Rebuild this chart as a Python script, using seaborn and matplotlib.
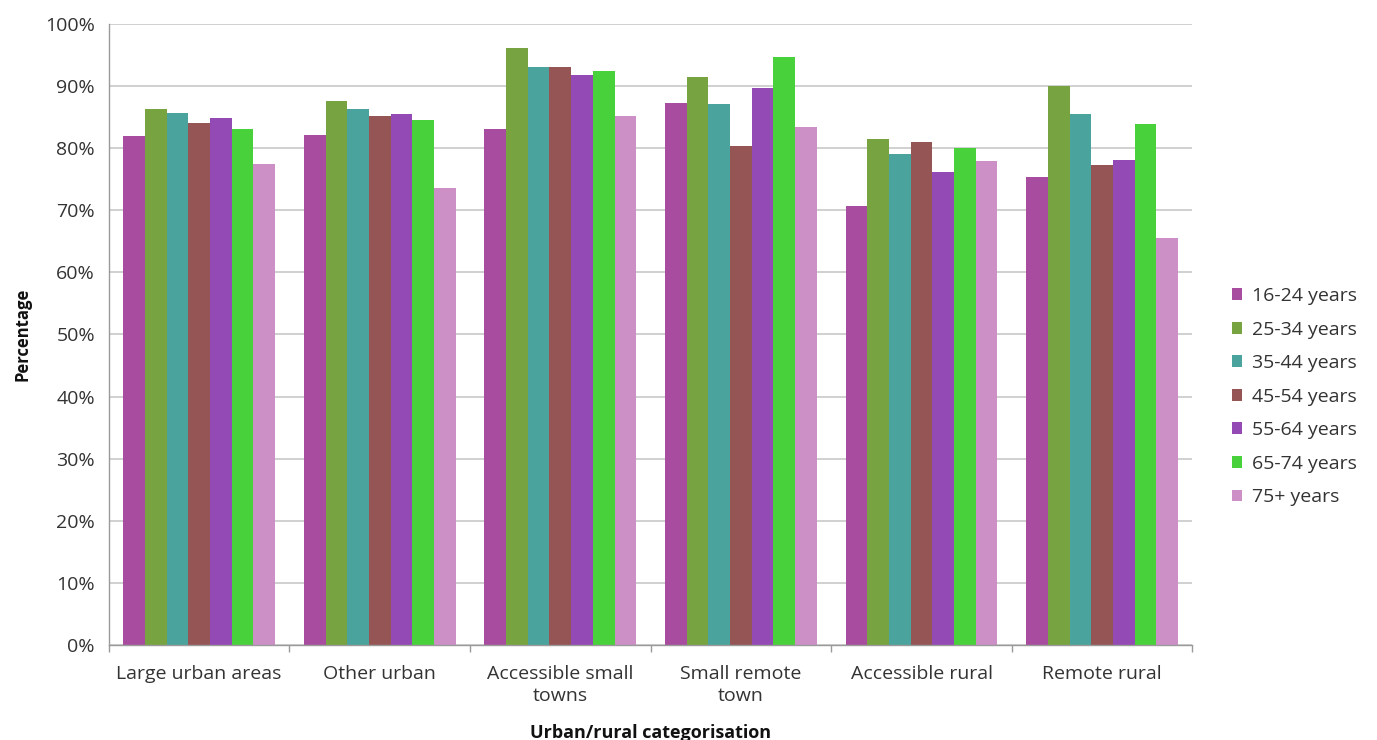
import numpy as np
import pandas as pd
import matplotlib
matplotlib.use('Agg')
import matplotlib.pyplot as plt
import seaborn as sns
from matplotlib.ticker import FuncFormatter, FixedLocator

categories = ['Large urban areas', 'Other urban', 'Accessible small\ntowns',
              'Small remote\ntown', 'Accessible rural', 'Remote rural']
age_groups = ['16-24 years', '25-34 years', '35-44 years', '45-54 years',
              '55-64 years', '65-74 years', '75+ years']

v_16_24 = [82.0, 82.1, 83.1, 87.3, 70.7, 75.3]
v_25_34 = [86.3, 87.6, 96.1, 91.5, 81.4, 90.0]
v_35_44 = [85.7, 86.2, 93.1, 87.0, 79.0, 85.4]
v_45_54 = [84.1, 85.1, 93.1, 80.4, 81.0, 77.2]
v_55_64 = [84.8, 85.4, 91.8, 89.7, 76.2, 78.1]
v_65_74 = [83.1, 84.5, 92.4, 94.7, 80.0, 83.8]
v_75 = [77.5, 73.6, 85.1, 83.3, 77.9, 65.5]

colors = ['#A84CA0', '#77A340', '#4AA39C', '#955555', '#934AB4', '#48D13A', '#CC8FC6']


def build_df():
    series = [v_16_24, v_25_34, v_35_44, v_45_54, v_55_64, v_65_74, v_75]
    rows = []
    for age, vals in zip(age_groups, series):
        for cat, v in zip(categories, vals):
            rows.append({'category': cat, 'age': age, 'value': v})
    return pd.DataFrame(rows)


def main():
    df = build_df()
    sns.set_theme(style='white')
    plt.rcParams['font.family'] = ['Open Sans', 'DejaVu Sans']

    fig = plt.figure(figsize=(13.77, 7.40), dpi=100)
    ax = fig.add_axes([0.079, 0.128, 0.787, 0.840])

    sns.barplot(data=df, x='category', y='value', hue='age', order=categories,
                hue_order=age_groups, palette=colors, width=0.84,
                saturation=1, ax=ax, linewidth=0)

    ax.set_ylim(0, 100)
    ax.set_xlim(-0.5, len(categories) - 0.5)
    ax.set_yticks(np.arange(0, 101, 10))
    ax.yaxis.set_major_formatter(FuncFormatter(lambda v, p: f'{int(v)}%'))
    ax.grid(axis='y', color='#C8C8C8', linewidth=1.2)
    ax.set_axisbelow(True)

    for s in ['top', 'right']:
        ax.spines[s].set_visible(False)
    for s in ['left', 'bottom']:
        ax.spines[s].set_color('#9A9A9A')
        ax.spines[s].set_linewidth(1.0)

    ax.tick_params(axis='y', labelsize=14, colors='#333333', length=0, pad=10)
    ax.tick_params(axis='x', labelsize=14, colors='#333333', length=0, pad=14)
    ax.xaxis.set_minor_locator(FixedLocator(np.arange(-0.5, len(categories), 1.0)))
    ax.tick_params(axis='x', which='minor', length=5, color='#9A9A9A', bottom=True)
    ax.tick_params(axis='y', which='both', left=False)
    for lbl in ax.get_xticklabels():
        lbl.set_linespacing(1.3)
    ax.set_xlabel('Urban/rural categorisation', fontsize=13, fontweight='bold',
                  color='#111111', labelpad=14)
    ax.set_ylabel('Percentage', fontsize=12, fontweight='bold', color='#111111',
                  labelpad=10)

    handles, labels = ax.get_legend_handles_labels()
    ax.legend(handles, labels, loc='center left', bbox_to_anchor=(1.02, 0.40),
              frameon=False, fontsize=14, handlelength=0.55, handleheight=0.55,
              handletextpad=0.5, labelspacing=0.8, labelcolor='#333333')

    fig.savefig('out.png', dpi=100)


if __name__ == "__main__":
    main()
